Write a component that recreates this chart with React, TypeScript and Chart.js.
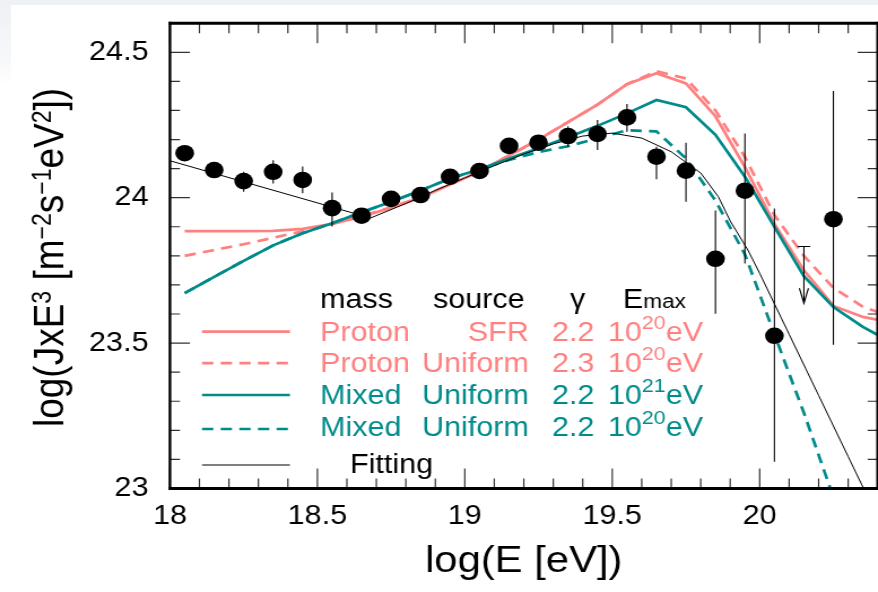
import React, { useEffect, useRef } from "react";
import { Chart, registerables } from "chart.js";

Chart.register(...registerables);

// ---------- data ----------
const xTicks = [18, 18.5, 19, 19.5, 20];
const yTicks = [23, 23.5, 24, 24.5];

const dataE = [18.05, 18.15, 18.25, 18.35, 18.45, 18.55, 18.65, 18.75, 18.85, 18.95, 19.05, 19.15, 19.25, 19.35, 19.45, 19.55, 19.65, 19.75, 19.85, 19.95, 20.05, 20.25];
const dataFlux = [24.153, 24.095, 24.057, 24.089, 24.061, 23.964, 23.938, 23.996, 24.009, 24.072, 24.092, 24.178, 24.189, 24.212, 24.219, 24.276, 24.141, 24.093, 23.79, 24.024, 23.525, 23.926];
const errUp = [0.02, 0.025, 0.032, 0.04, 0.046, 0.054, 0.02, 0.02, 0.02, 0.02, 0.02, 0.025, 0.025, 0.034, 0.048, 0.046, 0.034, 0.096, 0.166, 0.197, 0.438, 0.441];
const errDown = [0.02, 0.025, 0.037, 0.04, 0.046, 0.063, 0.02, 0.02, 0.02, 0.02, 0.02, 0.025, 0.025, 0.037, 0.055, 0.049, 0.078, 0.107, 0.189, 0.25, 0.433, 0.432];

const limitE = [20.15];
const limitFlux = [23.832];
const limitArrowTo = [23.637];

const modelE = [18.05, 18.15, 18.25, 18.35, 18.45, 18.55, 18.65, 18.75, 18.85, 18.95, 19.05, 19.15, 19.25, 19.35, 19.45, 19.55, 19.65, 19.75, 19.85, 19.95, 20.05, 20.15, 20.25, 20.35, 20.45];
const protonSFR = [23.885, 23.885, 23.885, 23.886, 23.893, 23.91, 23.935, 23.965, 24.0, 24.045, 24.09, 24.145, 24.2, 24.26, 24.32, 24.39, 24.428, 24.393, 24.28, 24.105, 23.91, 23.75, 23.628, 23.59, 23.57];
const protonUniform = [23.8, 23.82, 23.84, 23.862, 23.885, 23.91, 23.937, 23.967, 24.002, 24.046, 24.09, 24.145, 24.2, 24.26, 24.32, 24.39, 24.435, 24.41, 24.3, 24.14, 23.94, 23.8, 23.69, 23.625, 23.59];
const mixed21 = [23.672, 23.728, 23.783, 23.836, 23.878, 23.912, 23.95, 23.986, 24.025, 24.066, 24.098, 24.135, 24.17, 24.208, 24.247, 24.29, 24.336, 24.311, 24.216, 24.072, 23.9, 23.73, 23.624, 23.556, 23.5];
const mixed20 = [23.672, 23.728, 23.783, 23.836, 23.878, 23.912, 23.95, 23.986, 24.025, 24.066, 24.098, 24.13, 24.157, 24.177, 24.204, 24.232, 24.228, 24.135, 23.99, 23.805, 23.53, 23.26, 22.97, 22.68, 22.4];

const fitE = [18.0, 18.68, 18.8, 18.9, 19.0, 19.1, 19.2, 19.3, 19.4, 19.5, 19.6, 19.7, 19.8, 19.86, 19.9, 19.96, 20.0, 20.1, 20.2, 20.3, 20.4];
const fitFlux = [24.127, 23.93, 23.98, 24.025, 24.068, 24.11, 24.15, 24.185, 24.212, 24.222, 24.205, 24.158, 24.085, 24.003, 23.92, 23.82, 23.74, 23.53, 23.32, 23.11, 22.9];

// ---------- styling ----------
const S = 1.13; // horizontal stretch of the figure
const CW = 785;
const CH = 592;
const FONT = "'Liberation Sans', Arial, Helvetica, sans-serif";
const PINK = "#ff8080";
const TEAL = "#008b8b";

const pts = (xs: number[], ys: number[]) => xs.map((x, i) => ({ x, y: ys[i] }));

type Seg = { t: string; sup?: boolean; sub?: boolean };

function drawRich(ctx: CanvasRenderingContext2D, segs: Seg[], x: number, y: number, size: number, supSize: number, raise: number, color: string) {
  ctx.fillStyle = color;
  ctx.textBaseline = "alphabetic";
  ctx.textAlign = "left";
  let cx = x;
  for (const s of segs) {
    ctx.font = `${s.sup || s.sub ? supSize : size}px ${FONT}`;
    ctx.fillText(s.t, cx, y - (s.sup ? raise : 0));
    cx += ctx.measureText(s.t).width;
  }
  return cx - x;
}

function richWidth(ctx: CanvasRenderingContext2D, segs: Seg[], size: number, supSize: number) {
  let w = 0;
  for (const s of segs) {
    ctx.font = `${s.sup || s.sub ? supSize : size}px ${FONT}`;
    w += ctx.measureText(s.t).width;
  }
  return w;
}

const decorPlugin = {
  id: "decor",
  afterDatasetsDraw(chart: any) {
    const { ctx, chartArea: a, scales } = chart;
    const xs = scales.x;
    const ys = scales.y;
    ctx.save();
    // error bars
    ctx.beginPath();
    ctx.rect(a.left, a.top, a.right - a.left, a.bottom - a.top);
    ctx.clip();
    ctx.strokeStyle = "#000";
    ctx.lineWidth = 1.1;
    dataE.forEach((e, i) => {
      const px = xs.getPixelForValue(e);
      ctx.beginPath();
      ctx.moveTo(px, ys.getPixelForValue(dataFlux[i] + errUp[i]));
      ctx.lineTo(px, ys.getPixelForValue(dataFlux[i] - errDown[i]));
      ctx.stroke();
    });
    // upper limit
    limitE.forEach((e, i) => {
      const px = xs.getPixelForValue(e);
      const py0 = ys.getPixelForValue(limitFlux[i]);
      const py1 = ys.getPixelForValue(limitArrowTo[i]);
      ctx.beginPath();
      ctx.moveTo(px - 5.6, py0);
      ctx.lineTo(px + 5.6, py0);
      ctx.moveTo(px, py0);
      ctx.lineTo(px, py1);
      ctx.moveTo(px - 4, py1 - 15);
      ctx.lineTo(px, py1);
      ctx.lineTo(px + 4, py1 - 15);
      ctx.stroke();
    });
    ctx.restore();

    ctx.save();
    // inward ticks
    ctx.strokeStyle = "#333";
    ctx.lineWidth = 1.2;
    ctx.beginPath();
    for (let i = 0; i <= 24; i++) {
      const v = 18 + i / 10;
      const px = xs.getPixelForValue(v);
      const len = i % 5 === 0 ? 20 : 10;
      ctx.moveTo(px, a.top);
      ctx.lineTo(px, a.top + len);
      ctx.moveTo(px, a.bottom);
      ctx.lineTo(px, a.bottom - len);
    }
    for (let i = 0; i <= 16; i++) {
      const v = 23 + i / 10;
      const py = ys.getPixelForValue(v);
      const len = (i % 5 === 0 ? 20 : 10) / S;
      ctx.moveTo(a.left, py);
      ctx.lineTo(a.left + len, py);
      ctx.moveTo(a.right, py);
      ctx.lineTo(a.right - len, py);
    }
    ctx.stroke();
    // frame
    ctx.strokeStyle = "#000";
    ctx.lineWidth = 3;
    ctx.beginPath();
    ctx.moveTo(a.left - 1.2, a.top);
    ctx.lineTo(a.right, a.top);
    ctx.moveTo(a.left - 1.2, a.bottom);
    ctx.lineTo(a.right, a.bottom);
    ctx.stroke();
    ctx.lineWidth = 2.4;
    ctx.beginPath();
    ctx.moveTo(a.left, a.top - 1.5);
    ctx.lineTo(a.left, a.bottom + 1.5);
    ctx.moveTo(a.right, a.top - 1.5);
    ctx.lineTo(a.right, a.bottom + 1.5);
    ctx.stroke();

    // legend
    const L1 = 178.8, L2 = 256.6;
    const rows = [
      { color: PINK, dash: [] as number[], w: 2.7, ly: 331.6, by: 340.5, a: "Proton", b: "SFR", g: "2.2", p: "20" },
      { color: PINK, dash: [10, 6.5], w: 2.7, ly: 363.2, by: 372, a: "Proton", b: "Uniform", g: "2.3", p: "20" },
      { color: TEAL, dash: [], w: 2.7, ly: 395, by: 404, a: "Mixed", b: "Uniform", g: "2.2", p: "21" },
      { color: TEAL, dash: [10, 6.5], w: 2.7, ly: 429, by: 436, a: "Mixed", b: "Uniform", g: "2.2", p: "20" },
    ];
    const F = 27;
    ctx.font = `${F}px ${FONT}`;
    ctx.fillStyle = "#000";
    ctx.textBaseline = "alphabetic";
    ctx.textAlign = "left";
    ctx.fillText("mass", 283.2, 308);
    ctx.fillText("source", 383.2, 308);
    ctx.fillText("\u03b3", 504.4, 308);
    drawRich(ctx, [{ t: "E" }, { t: "max", sub: true }], 551.3, 308, F, 20, 0, "#000");
    for (const r of rows) {
      ctx.strokeStyle = r.color;
      ctx.lineWidth = r.w;
      ctx.setLineDash(r.dash);
      ctx.beginPath();
      ctx.moveTo(L1, r.ly);
      ctx.lineTo(L2, r.ly);
      ctx.stroke();
      ctx.setLineDash([]);
      ctx.font = `${F}px ${FONT}`;
      ctx.fillStyle = r.color;
      ctx.textAlign = "left";
      ctx.fillText(r.a, 283.2, r.by);
      ctx.textAlign = "right";
      ctx.fillText(r.b, 468, r.by);
      ctx.textAlign = "left";
      ctx.fillText(r.g, 488.5, r.by);
      drawRich(ctx, [{ t: "10" }, { t: r.p, sup: true }, { t: "eV" }], 538, r.by, F, 19, 12, r.color);
    }
    ctx.strokeStyle = "#000";
    ctx.lineWidth = 1;
    ctx.beginPath();
    ctx.moveTo(L1, 465);
    ctx.lineTo(L2, 465);
    ctx.stroke();
    ctx.font = `${F}px ${FONT}`;
    ctx.fillStyle = "#000";
    ctx.textAlign = "left";
    ctx.fillText("Fitting", 309.7, 473);

    // axis titles
    const TF = 37;
    ctx.font = `${TF}px ${FONT}`;
    ctx.textAlign = "center";
    ctx.fillStyle = "#000";
    ctx.fillText("log(E [eV])", (a.left + a.right) / 2, 572);

    const ySegs: Seg[] = [
      { t: "log(JxE" }, { t: "3", sup: true }, { t: " [m" }, { t: "\u22122", sup: true },
      { t: "s" }, { t: "\u22121", sup: true }, { t: "eV" }, { t: "2", sup: true }, { t: "])" },
    ];
    const w = richWidth(ctx, ySegs, TF, 23);
    ctx.translate(56, 257.5);
    ctx.rotate(-Math.PI / 2);
    drawRich(ctx, ySegs, -w / 2, 0, TF, 23, 11, "#000");
    ctx.restore();
  },
};

export default function App() {
  const ref = useRef<HTMLCanvasElement | null>(null);
  useEffect(() => {
    if (!ref.current) return;
    const lineDs = (label: string, xs: number[], ys: number[], color: string, width: number, dash: number[]) => ({
      label,
      data: pts(xs, ys),
      showLine: true,
      borderColor: color,
      backgroundColor: color,
      borderWidth: width,
      borderDash: dash,
      pointRadius: 0,
      pointHoverRadius: 0,
      tension: 0,
    });
    const chart = new Chart(ref.current, {
      type: "scatter",
      data: {
        datasets: [
          {
            label: "data",
            data: pts(dataE, dataFlux),
            showLine: false,
            pointRadius: 8.3,
            pointHoverRadius: 8.3,
            backgroundColor: "#000",
            borderWidth: 0,
          } as any,
          lineDs("Fitting", fitE, fitFlux, "#000", 1, []),
          lineDs("Mixed Uniform 1e20", modelE, mixed20, TEAL, 2.7, [10, 6.5]),
          lineDs("Mixed Uniform 1e21", modelE, mixed21, TEAL, 2.7, []),
          lineDs("Proton Uniform", modelE, protonUniform, PINK, 2.7, [10, 6.5]),
          lineDs("Proton SFR", modelE, protonSFR, PINK, 2.7, []),
        ],
      },
      options: {
        responsive: false,
        animation: false,
        devicePixelRatio: 1,
        layout: { padding: { top: 23.2, right: 5.8, left: 0, bottom: 0 } },
        plugins: { legend: { display: false }, tooltip: { enabled: false } },
        events: [],
        scales: {
          x: {
            type: "linear",
            min: 18,
            max: 20.4,
            afterBuildTicks: (s: any) => {
              s.ticks = xTicks.map((v) => ({ value: v }));
            },
            afterFit: (s: any) => {
              s.height = 103.5;
              s.paddingLeft = 0;
              s.paddingRight = 0;
            },
            grid: { display: false, drawTicks: false },
            border: { display: false },
            ticks: {
              font: { family: FONT, size: 27 },
              color: "#000",
              padding: 12,
              maxRotation: 0,
              autoSkip: false,
              callback: (v: any) => String(v),
            },
          },
          y: {
            type: "linear",
            min: 23,
            max: 24.6,
            afterBuildTicks: (s: any) => {
              s.ticks = yTicks.map((v) => ({ value: v }));
            },
            afterFit: (s: any) => {
              s.width = 150.4;
              s.paddingTop = 0;
              s.paddingBottom = 0;
            },
            grid: { display: false, drawTicks: false },
            border: { display: false },
            ticks: {
              font: { family: FONT, size: 27 },
              color: "#000",
              padding: 19,
              autoSkip: false,
              callback: (v: any) => String(v),
            },
          },
        },
      },
      plugins: [decorPlugin],
    });
    return () => chart.destroy();
  }, []);

  return (
    <div style={{ position: "fixed", left: 0, top: 0, width: 878, height: 592, overflow: "hidden", background: "#fff" }}>
      <canvas
        ref={ref}
        width={CW}
        height={CH}
        style={{ width: `${CW * S}px`, height: `${CH}px`, display: "block" }}
      />
      <div style={{ position: "absolute", left: 0, top: 0, width: "100%", height: 5, background: "#eef1f5" }} />
      <div style={{ position: "absolute", left: 0, top: 5, width: 11, height: 80, background: "linear-gradient(to bottom, #eef1f5, #f7f8fa 70%, #ffffff)" }} />
    </div>
  );
}
